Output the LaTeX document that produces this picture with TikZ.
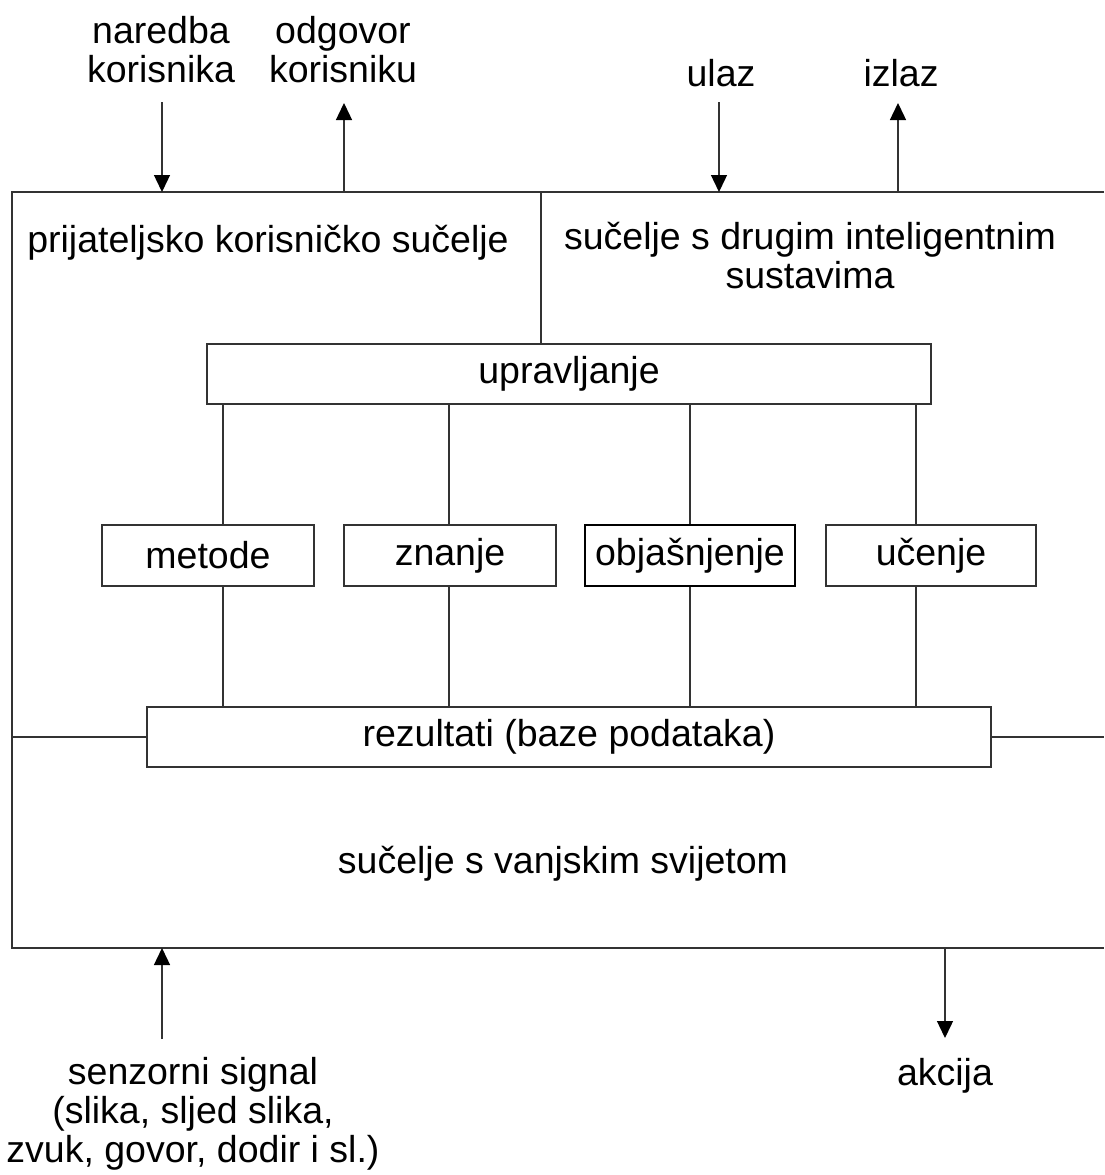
\documentclass[tikz,border=0pt]{standalone}
\usepackage{fontspec}
\setmainfont{Liberation Sans}
\usetikzlibrary{arrows.meta}
\begin{document}
\begin{tikzpicture}[x=1pt,y=-1pt,
  lbl/.style={font=\fontsize{37.5}{39}\selectfont, inner sep=0pt, align=center},
  box/.style={draw=black!80, line width=1.4pt, fill=white, inner sep=0pt,
              font=\fontsize{37.5}{39}\selectfont},
  wire/.style={draw=black!80, line width=1.4pt},
  arr/.style={wire, -{Triangle[width=16pt,length=17pt,color=black,fill=black]}}]
\useasboundingbox (0,0) rectangle (1104,1175);

% outer frame (open to the right)
\draw[wire] (1104,192) -- (12,192) -- (12,948) -- (1104,948);

% labels outside the frame (base = baseline of the last line)
\node[lbl, anchor=base] (nar) at (161,82) {naredba\\korisnika};
\node[lbl, anchor=base] (odg) at (343,82) {odgovor\\korisniku};
\node[lbl, anchor=base] (ul)  at (721,86) {ulaz};
\node[lbl, anchor=base] (iz)  at (901,86) {izlaz};
\node[lbl, anchor=base] (sen) at (193,1162) {senzorni signal\\(slika, sljed slika,\\zvuk, govor, dodir i sl.)};
\node[lbl, anchor=base] (akc) at (945,1085) {akcija};

% labels inside the frame
\node[lbl, anchor=base] (pks) at (268,252) {prijateljsko korisničko sučelje};
\node[lbl, anchor=base] (sdi) at (810,288) {sučelje s drugim inteligentnim\\sustavima};
\node[lbl, anchor=base] (svs) at (563,873) {sučelje s vanjskim svijetom};

% boxes
\node[box, minimum width=724pt, minimum height=60pt] (upr) at (569,374) {upravljanje};
\node[box, minimum width=212pt, minimum height=61pt] (met) at (208,555.5) {metode};
\node[box, minimum width=212pt, minimum height=61pt] (zna) at (450,555.5) {znanje};
\node[box, draw=black, line width=2.4pt, minimum width=210pt, minimum height=61pt] (obj) at (690,555.5) {objašnjenje};
\node[box, minimum width=210pt, minimum height=61pt] (uce) at (931,555.5) {učenje};
\node[box, minimum width=844pt, minimum height=60pt] (res) at (569,737) {rezultati (baze podataka)};

% connector positions
\coordinate (dv) at (541,192);
\coordinate (c1) at (223,0);
\coordinate (c2) at (449,0);
\coordinate (c3) at (690,0);
\coordinate (c4) at (916,0);
\coordinate (fl) at (12,737);
\coordinate (fr) at (1104,737);

\draw[wire] (dv) -- (dv |- upr.north);
\foreach \c/\b in {c1/met, c2/zna, c3/obj, c4/uce} {
  \draw[wire] (\c |- upr.south) -- (\c |- \b.north);
  \draw[wire] (\c |- \b.south) -- (\c |- res.north);
}
\draw[wire] (fl) -- (res.west);
\draw[wire] (res.east) -- (fr);

% arrows at the frame
\coordinate (narA) at (162,102);  \coordinate (narB) at (162,192);
\coordinate (odgA) at (344,192);  \coordinate (odgB) at (344,103);
\coordinate (ulA)  at (719,102);  \coordinate (ulB)  at (719,192);
\coordinate (izA)  at (898,192);  \coordinate (izB)  at (898,103);
\coordinate (senA) at (162,1039); \coordinate (senB) at (162,948);
\coordinate (akcA) at (945,948);  \coordinate (akcB) at (945,1038);
\draw[arr] (narA) -- (narB);
\draw[arr] (odgA) -- (odgB);
\draw[arr] (ulA) -- (ulB);
\draw[arr] (izA) -- (izB);
\draw[arr] (senA) -- (senB);
\draw[arr] (akcA) -- (akcB);
\end{tikzpicture}
\end{document}
